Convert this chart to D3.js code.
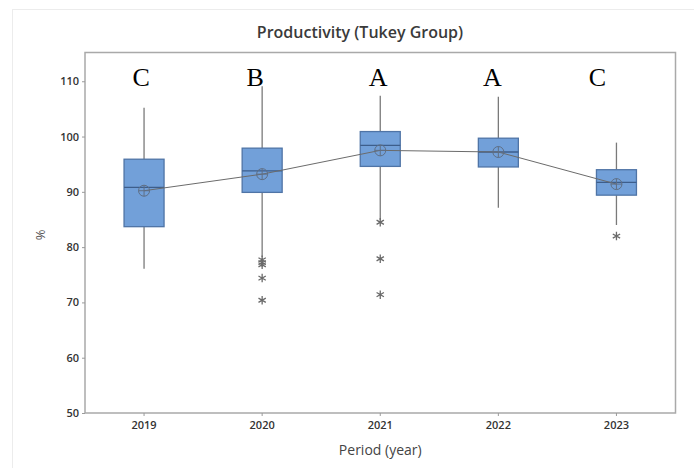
<!DOCTYPE html>
<html><head><meta charset="utf-8">
<script src="https://cdn.jsdelivr.net/npm/d3@7"></script>
<style>
html,body{margin:0;padding:0;background:#fff;}
svg{display:block;}
</style></head>
<body>
<svg id="chart" width="694" height="468"></svg>
<script>
const years = ["2019","2020","2021","2022","2023"];
const whiskerLow = [76.1, 78.2, 84.9, 87.1, 84.0];
const q1 = [83.7, 89.9, 94.6, 94.5, 89.4];
const median = [90.8, 93.8, 98.4, 97.2, 91.7];
const q3 = [95.9, 97.9, 100.9, 99.7, 94.0];
const whiskerHigh = [105.2, 109.1, 107.4, 107.2, 98.9];
const means = [90.2, 93.2, 97.5, 97.2, 91.4];
const outliers = [[], [77.7, 77.2, 76.8, 74.4, 70.4], [84.5, 77.9, 71.4], [], [82.0]];
const tukeyGroups = ["C","B","A","A","C"];
const letterShift = [-3, -7, -2, -6, -19];
const yTicks = [50, 60, 70, 80, 90, 100, 110];

const svg = d3.select("#chart");
const W = 694, H = 468;
const m = {left: 85, top: 52.5, right: 18.5, bottom: 55};
const pw = W - m.left - m.right, ph = H - m.top - m.bottom;

// outer light frame
svg.append("rect").attr("x", 12.5).attr("y", 9.5).attr("width", 720).attr("height", 500)
  .attr("fill", "none").attr("stroke", "#ececec").attr("stroke-width", 1);

const x = d3.scaleBand().domain(years).range([m.left, m.left + pw]).padding(0);
const y = d3.scaleLinear().domain([50, 115.2]).range([m.top + ph, m.top]);
const cx = d => x(d) + x.bandwidth() / 2;

// title
svg.append("text").attr("x", 360).attr("y", 38).attr("text-anchor", "middle")
  .attr("font-family", "'Open Sans', sans-serif").attr("font-weight", 600)
  .attr("font-size", 16).attr("fill", "#3a3a3a").text("Productivity (Tukey Group)");

// plot frame
svg.append("rect").attr("x", m.left).attr("y", m.top).attr("width", pw).attr("height", ph)
  .attr("fill", "none").attr("stroke", "#a9a9a9").attr("stroke-width", 1.5);

// axes
const yAxis = svg.append("g").attr("transform", `translate(${m.left},0)`)
  .call(d3.axisLeft(y).tickValues(yTicks).tickSize(3).tickPadding(3));
const xAxis = svg.append("g").attr("transform", `translate(0,${m.top + ph})`)
  .call(d3.axisBottom(x).tickSize(3).tickPadding(5));
[yAxis, xAxis].forEach(g => {
  g.select(".domain").remove();
  g.selectAll(".tick line").attr("stroke", "#9a9a9a");
  g.selectAll(".tick text").attr("font-family", "'Open Sans', sans-serif")
    .attr("font-weight", 600).attr("font-size", 11).attr("fill", "#333");
});

// axis titles
svg.append("text").attr("transform", `translate(45,${m.top + ph / 2 + 2}) rotate(-90)`)
  .attr("text-anchor", "middle").attr("font-family", "'Open Sans', sans-serif")
  .attr("font-size", 13).attr("fill", "#555").text("%");
svg.append("text").attr("x", m.left + pw / 2).attr("y", 455).attr("text-anchor", "middle")
  .attr("font-family", "'Open Sans', sans-serif").attr("font-size", 14).attr("fill", "#444")
  .text("Period (year)");

const boxW = 40;
const g = svg.append("g");
years.forEach((yr, i) => {
  const c = cx(yr);
  // whiskers
  g.append("line").attr("x1", c).attr("x2", c).attr("y1", y(q3[i])).attr("y2", y(whiskerHigh[i]))
    .attr("stroke", "#7a7a7a").attr("stroke-width", 1.3);
  g.append("line").attr("x1", c).attr("x2", c).attr("y1", y(q1[i])).attr("y2", y(whiskerLow[i]))
    .attr("stroke", "#7a7a7a").attr("stroke-width", 1.3);
  // box
  g.append("rect").attr("x", c - boxW / 2).attr("y", y(q3[i])).attr("width", boxW)
    .attr("height", y(q1[i]) - y(q3[i])).attr("fill", "#72a0d9").attr("stroke", "#4f74a6").attr("stroke-width", 1.3);
  // median
  g.append("line").attr("x1", c - boxW / 2).attr("x2", c + boxW / 2).attr("y1", y(median[i])).attr("y2", y(median[i]))
    .attr("stroke", "#3d5e8c").attr("stroke-width", 1.3);
  // outliers
  outliers[i].forEach(v => {
    g.append("path").attr("transform", `translate(${c},${y(v)})`)
      .attr("d", d3.symbol().type(d3.symbolAsterisk).size(50)())
      .attr("fill", "none").attr("stroke", "#6a6a6a").attr("stroke-width", 1.3);
  });
});

// mean connect line
g.append("path").datum(means.map((v, i) => [cx(years[i]), y(v)]))
  .attr("d", d3.line()).attr("fill", "none").attr("stroke", "#6b6b6b").attr("stroke-width", 1);
// mean symbols
means.forEach((v, i) => {
  const c = cx(years[i]), yy = y(v), r = 5.5;
  g.append("circle").attr("cx", c).attr("cy", yy).attr("r", r).attr("fill", "none")
    .attr("stroke", "#5f6f85").attr("stroke-width", 1);
  g.append("line").attr("x1", c - r).attr("x2", c + r).attr("y1", yy).attr("y2", yy).attr("stroke", "#5f6f85");
  g.append("line").attr("x1", c).attr("x2", c).attr("y1", yy - r).attr("y2", yy + r).attr("stroke", "#5f6f85");
});

// Tukey group letters
tukeyGroups.forEach((t, i) => {
  svg.append("text").attr("x", cx(years[i]) + letterShift[i]).attr("y", 86)
    .attr("text-anchor", "middle").attr("font-family", "'Liberation Serif', 'Times New Roman', serif")
    .attr("font-size", 26).attr("fill", "#000").text(t);
});
</script>
</body></html>
